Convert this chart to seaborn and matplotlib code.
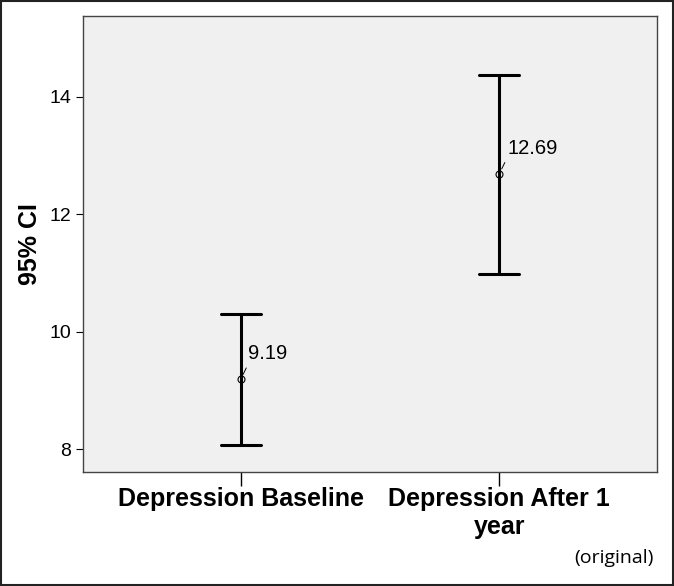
import pandas as pd
import seaborn as sns
import matplotlib.pyplot as plt

# summary values
groups = ["Depression Baseline", "Depression After 1\nyear"]
means = [9.19, 12.69]
lower = [8.07, 10.98]
upper = [10.31, 14.38]

# long table: low / mean / high per group -> median = mean, 100% interval = CI
rows = []
for g, lo, m, hi in zip(groups, lower, means, upper):
    for v in (lo, m, hi):
        rows.append({"group": g, "value": v})
df = pd.DataFrame(rows)

sns.set_style("ticks")
plt.rcParams["font.family"] = ["Liberation Sans", "DejaVu Sans"]
plt.rcParams["text.color"] = "black"
plt.rcParams["axes.labelcolor"] = "black"
plt.rcParams["xtick.color"] = "black"
plt.rcParams["ytick.color"] = "black"

fig = plt.figure(figsize=(6.74, 5.86), dpi=100)
ax = fig.add_axes([83 / 674, 1 - 472 / 586, (657 - 83) / 674, (472 - 16) / 586])
ax.set_facecolor("#f0f0f0")

sns.pointplot(
    data=df, x="group", y="value", ax=ax,
    estimator="median", errorbar=("pi", 100),
    color="black", linestyle="none", marker="o",
    markersize=5, markerfacecolor="none", markeredgewidth=0.8,
    capsize=0.155, err_kws={"linewidth": 2.2},
)

for i, m in enumerate(means):
    ax.annotate(
        f"{m:.2f}", xy=(i, m), xytext=(i + 0.03, m + 0.27),
        fontsize=14.5, ha="left", va="bottom",
        arrowprops=dict(arrowstyle="-", color="black", lw=0.7,
                        shrinkA=1, shrinkB=4, relpos=(0, 0)),
    )

ax.set_xlim(-0.61, 1.61)
ax.set_ylim(7.61, 15.38)
ax.set_yticks([8, 10, 12, 14])
ax.set_xlabel("")
ax.set_ylabel("95% CI", fontsize=18, fontweight="bold", labelpad=5)
ax.tick_params(axis="y", labelsize=14, length=5, width=0.8)
ax.tick_params(axis="x", labelsize=18, length=10, width=1, pad=1)
for lab in ax.get_xticklabels():
    lab.set_fontweight("bold")
for s in ax.spines.values():
    s.set_visible(True)
    s.set_color("#444444")
    s.set_linewidth(1)

fig.text(654 / 674, 1 - 558 / 586, "(original)", ha="right", va="center",
         fontsize=14, family=["Open Sans", "DejaVu Sans"])

# frame around the whole image
fig.patches.append(plt.Rectangle((0.001, 0.001), 0.998, 0.998, transform=fig.transFigure,
                                 fill=False, edgecolor="#222222", linewidth=1.5))

fig.savefig("out.png", dpi=100)
